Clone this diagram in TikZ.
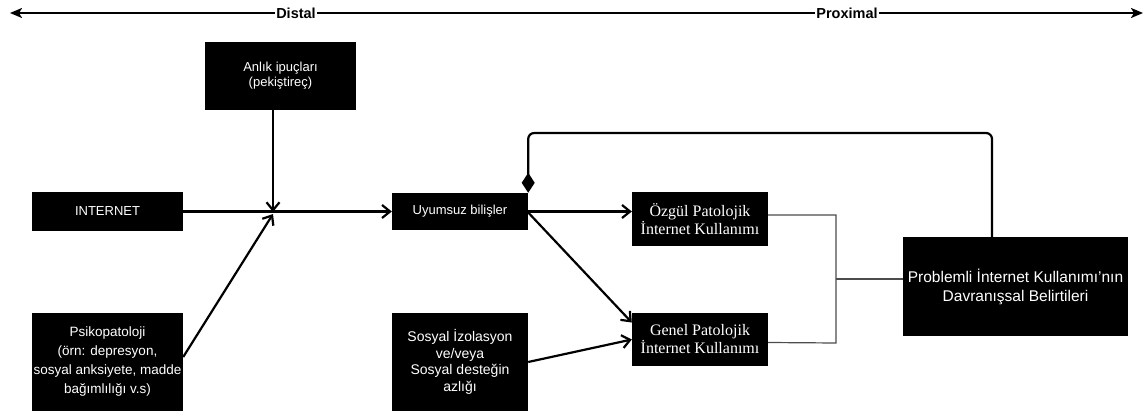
\documentclass[tikz,border=0pt]{standalone}
\usepackage{fontspec}
\setmainfont{Liberation Sans}
\newfontfamily\serifface{Liberation Serif}
\usetikzlibrary{arrows.meta}
\tikzset{
  box/.style={fill=black, text=white, inner sep=0pt, align=center},
  arr/.style={line width=2.2pt, -{Straight Barb[length=8pt,width=13pt]}},
  gline/.style={line width=1.2pt, draw=black!70},
  toplabel/.style={fill=white, inner sep=1pt, font=\fontsize{14.5}{16}\selectfont\bfseries},
  axis/.style={line width=2.2pt},
  axtip/.tip={Stealth[length=12pt,width=10pt,inset=3pt]},
}
\begin{document}
\begin{tikzpicture}[x=1pt,y=-1pt]
\useasboundingbox (0,0) rectangle (1147,411);
% top axis
\coordinate (L) at (10,13);
\coordinate (R) at (1143,13);
\node[toplabel] (distal) at (296,13) {Distal};
\node[toplabel] (proximal) at (847,13) {Proximal};
\draw[axis, {axtip}-] (L) -- (distal.west);
\draw[axis] (distal.east) -- (proximal.west);
\draw[axis, -{axtip}] (proximal.east) -- (R);

% boxes
\node[box, minimum width=151pt, minimum height=68pt, font=\fontsize{13}{15}\selectfont] (anlik) at (280.5,76) {Anlık ipuçları\\(pekiştireç)};
\node[box, minimum width=151pt, minimum height=39pt, font=\fontsize{13}{15}\selectfont] (internet) at (107.5,211.5) {INTERNET};
\node[box, minimum width=151pt, minimum height=98pt, font=\fontsize{13.5}{19}\selectfont] (psiko) at (107.5,362) {Psikopatoloji\\(örn: depresyon,\\sosyal anksiyete, madde\\bağımlılığı v.s)};
\node[box, minimum width=136pt, minimum height=37pt, font=\fontsize{13}{15}\selectfont] (uyum) at (460,211.5) {Uyumsuz bilişler};
\node[box, minimum width=136pt, minimum height=54pt, font=\serifface\fontsize{16}{18}\selectfont] (ozgul) at (700,219) {Özgül Patolojik\\İnternet Kullanımı};
\node[box, minimum width=136pt, minimum height=98pt, font=\fontsize{14}{16.5}\selectfont] (sosyal) at (460,362) {Sosyal İzolasyon\\ve/veya\\Sosyal desteğin\\azlığı};
\node[box, minimum width=136pt, minimum height=53pt, font=\serifface\fontsize{16}{18}\selectfont] (genel) at (700,339.5) {Genel Patolojik\\İnternet Kullanımı};
\node[box, minimum width=225pt, minimum height=99pt, font=\fontsize{15.5}{19}\selectfont] (prob) at (1015.5,286.5) {Problemli İnternet Kullanımı'nın\\Davranışsal Belirtileri};

% junction
\coordinate (J) at (273,212);
\draw[arr] (J |- anlik.south) -- (J);
\draw[arr] ([yshift=5pt]psiko.east) -- ([yshift=-2pt]J);
\draw[arr] (internet.east) -- (uyum.west);

\draw[arr] (uyum.east) -- (ozgul.west |- uyum.east);
\draw[arr] ([yshift=-1pt]uyum.east) -- ([yshift=17pt]genel.west);
\draw[arr] (sosyal.east) -- (genel.west);

% feedback
\coordinate (fb) at (992,133);
\draw[line width=2.2pt, rounded corners=6pt, {Diamond[length=20pt,width=13pt]}-] (uyum.north east) |- (fb) -- (fb |- prob.north);

% bracket lines
\coordinate (b1) at (836,215);
\coordinate (b2) at (836,343);
\coordinate (bm) at (836,279);
\draw[gline] ([yshift=4pt]ozgul.east) -- (b1) -- (b2) -- ([yshift=-3pt]genel.east);
\draw[gline] (bm) -- (bm -| prob.west);
\end{tikzpicture}
\end{document}
